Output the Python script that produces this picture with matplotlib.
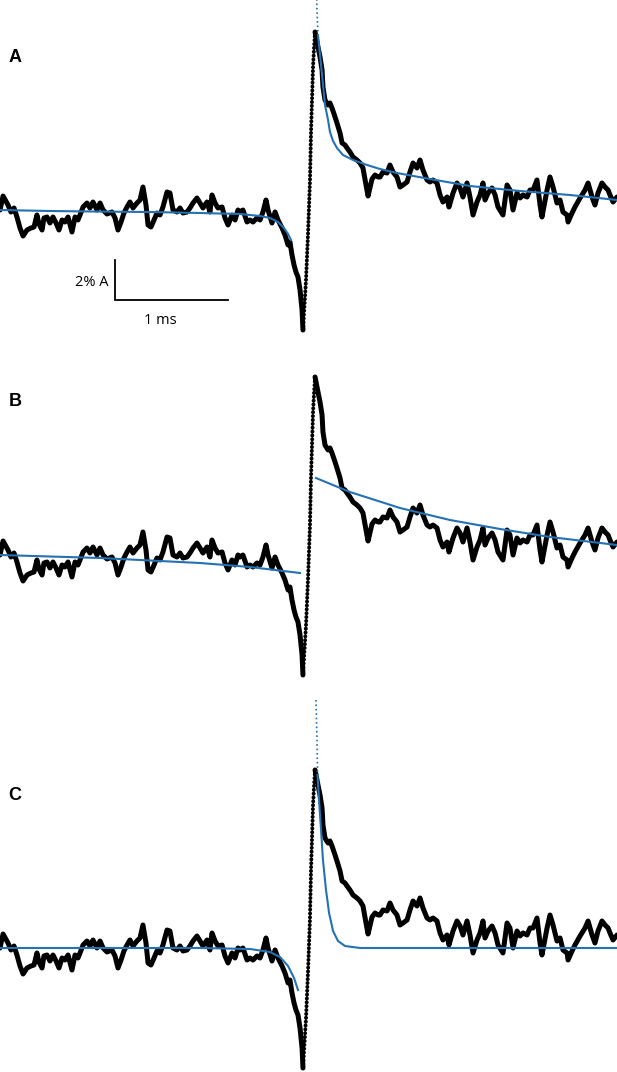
import matplotlib
matplotlib.use('Agg')
from matplotlib import pyplot as plt

# recorded trace (ms, % A), same in all three panels
t_pre = [0.000, 0.027, 0.071, 0.097, 0.124, 0.150, 0.177, 0.204, 0.239, 0.274,
         0.301, 0.327, 0.345, 0.372, 0.389, 0.416, 0.442, 0.469, 0.496, 0.522,
         0.549, 0.575, 0.602, 0.637, 0.664, 0.690, 0.708, 0.735, 0.770, 0.796,
         0.823, 0.858, 0.885, 0.912, 0.947, 0.991, 1.018, 1.044, 1.071, 1.097,
         1.124, 1.150, 1.177, 1.212, 1.239, 1.265, 1.292, 1.310, 1.336, 1.363,
         1.389, 1.416, 1.442, 1.478, 1.504, 1.531, 1.566, 1.593, 1.619, 1.655,
         1.681, 1.708, 1.743, 1.770, 1.796, 1.832, 1.858, 1.876, 1.903, 1.929,
         1.965, 1.991, 2.018, 2.053, 2.080, 2.106, 2.124, 2.150, 2.186, 2.212,
         2.239, 2.274, 2.301, 2.327, 2.354, 2.372, 2.407, 2.434, 2.460, 2.496,
         2.522, 2.549, 2.566, 2.584, 2.602, 2.619, 2.637, 2.655, 2.673, 2.681]
v_pre = [0.00, 0.70, 0.25, -0.10, 0.10, -0.35, -0.90, -1.30, -1.00, -0.90,
         -0.85, -0.25, -0.70, -1.00, -0.40, -0.35, -0.65, -0.35, -0.65, -1.00,
         -0.50, -0.60, -0.35, -1.10, -0.35, -0.50, -0.25, 0.15, 0.35, 0.10,
         0.40, 0.00, 0.35, 0.00, -0.20, -0.10, -0.40, -1.00, -0.60, -0.15,
         0.15, 0.40, 0.10, 0.35, 0.50, 1.15, 0.25, -0.75, -0.85, -0.50,
         -0.15, -0.25, 0.15, 0.90, 0.85, 0.00, -0.10, 0.10, -0.15, -0.10,
         0.10, 0.35, 0.60, 0.35, 0.10, 0.40, -0.10, 0.75, 0.35, 0.10,
         0.15, -0.40, -0.75, -0.25, -0.50, 0.00, -0.10, 0.00, -0.60, -0.50,
         -0.60, -0.40, -0.50, -0.10, 0.50, 0.00, -0.65, -0.10, -0.50, -0.90,
         -1.25, -1.75, -1.60, -2.25, -2.75, -3.10, -3.35, -4.00, -5.00, -6.00]

# fast upstroke (drawn dotted)
t_up = [2.681, 2.708, 2.726, 2.743, 2.752, 2.761, 2.770, 2.779, 2.788]
v_up = [-6.00, -3.50, -1.15, 1.50, 3.85, 5.50, 7.15, 8.10, 8.90]

t_post = [2.788, 2.814, 2.832, 2.850, 2.858, 2.876, 2.903, 2.920, 2.938, 2.965,
          2.982, 3.009, 3.027, 3.053, 3.071, 3.097, 3.124, 3.159, 3.186, 3.212,
          3.239, 3.257, 3.292, 3.319, 3.345, 3.363, 3.389, 3.425, 3.451, 3.478,
          3.513, 3.540, 3.566, 3.602, 3.628, 3.655, 3.690, 3.717, 3.743, 3.779,
          3.805, 3.832, 3.867, 3.894, 3.920, 3.956, 3.973, 4.009, 4.044, 4.071,
          4.097, 4.133, 4.159, 4.186, 4.221, 4.248, 4.274, 4.292, 4.319, 4.354,
          4.381, 4.407, 4.451, 4.487, 4.513, 4.540, 4.575, 4.602, 4.628, 4.664,
          4.690, 4.717, 4.752, 4.779, 4.796, 4.841, 4.867, 4.894, 4.929, 4.956,
          4.982, 5.018, 5.027, 5.062, 5.088, 5.133, 5.177, 5.204, 5.239, 5.265,
          5.292, 5.327, 5.354, 5.381, 5.398, 5.425, 5.460]
v_post = [8.90, 8.15, 7.65, 7.00, 6.15, 5.50, 5.25, 5.35, 5.10, 4.65,
          4.35, 3.85, 3.35, 3.25, 3.10, 2.90, 2.65, 2.50, 2.35, 2.10,
          1.25, 0.70, 1.55, 1.75, 1.65, 1.65, 1.90, 1.85, 2.25, 1.90,
          1.65, 1.15, 1.25, 1.40, 1.90, 2.35, 2.10, 2.50, 2.00, 1.50,
          1.40, 1.50, 1.35, 0.75, 0.40, 0.65, 0.15, 0.85, 1.35, 1.10,
          0.65, 1.35, 0.65, -0.25, 0.40, 0.75, 1.35, 0.50, 0.85, 1.10,
          0.75, 0.15, -0.25, 1.25, 1.00, 0.00, 0.85, 0.60, 0.75, 0.65,
          1.00, 1.00, 1.50, 0.25, -0.35, 1.00, 1.65, 1.15, 0.35, 0.50,
          -0.10, -0.25, -0.60, -0.15, 0.15, 0.60, 1.00, 1.35, 0.65, 0.25,
          0.85, 1.35, 1.15, 1.00, 0.75, 0.40, 0.65]

# fitted curves
fitA_left_t = [0, 0.442, 0.885, 1.327, 1.770, 2.124, 2.301, 2.389, 2.460, 2.513, 2.549, 2.575]
fitA_left_v = [0, -0.05, -0.08, -0.10, -0.15, -0.20, -0.30, -0.40, -0.60, -0.90, -1.20, -1.50]
fitA_dot_t = [2.801, 2.805, 2.814]
fitA_dot_v = [11.0, 10.0, 8.75]
fitA_right_t = [2.814, 2.832, 2.850, 2.876, 2.903, 2.920, 2.947, 2.982, 3.035, 3.124,
                3.248, 3.363, 3.513, 3.805, 4.159, 4.602, 5.044, 5.460]
fitA_right_v = [8.75, 7.75, 6.75, 5.25, 4.50, 3.90, 3.45, 3.10, 2.75, 2.50,
                2.25, 2.05, 1.85, 1.55, 1.20, 0.95, 0.75, 0.50]

fitB_left_t = [0, 0.885, 1.770, 2.212, 2.655]
fitB_left_v = [0, -0.15, -0.40, -0.60, -0.90]
fitB_right_t = [2.796, 3.097, 3.540, 3.982, 4.425, 4.867, 5.460]
fitB_right_v = [3.85, 3.15, 2.35, 1.75, 1.30, 0.90, 0.50]

fitC_left_t = [0, 1.770, 2.212, 2.389, 2.478, 2.549, 2.602, 2.637]
fitC_left_v = [0, 0, -0.05, -0.20, -0.45, -0.90, -1.50, -2.10]
fitC_dot_t = [2.796, 2.805, 2.810]
fitC_dot_v = [12.4, 10.5, 8.65]
fitC_right_t = [2.810, 2.823, 2.841, 2.858, 2.885, 2.912, 2.947, 2.991, 3.053, 3.186, 5.460]
fitC_right_v = [8.65, 7.40, 5.90, 4.40, 2.90, 1.75, 0.85, 0.35, 0.10, 0.00, 0.00]

fits = [
    (fitA_left_t, fitA_left_v, fitA_dot_t, fitA_dot_v, fitA_right_t, fitA_right_v),
    (fitB_left_t, fitB_left_v, None, None, fitB_right_t, fitB_right_v),
    (fitC_left_t, fitC_left_v, fitC_dot_t, fitC_dot_v, fitC_right_t, fitC_right_v),
]
labels = ['A', 'B', 'C']

blue = '#2471b3'
W, H = 617, 1072
fig = plt.figure(figsize=(W / 100, H / 100), dpi=100)
boxes = [[0, 727 / H, 1, 345 / H], [0, 382 / H, 1, 345 / H], [0, 0, 1, 382 / H]]
ylims = [(-6.75, 10.5), (-6.75, 10.5), (-6.2, 12.9)]
letter_y = [57, 402, 795]

for i in range(3):
    ax = fig.add_axes(boxes[i])
    lt, lv, dt, dv, rt, rv = fits[i]
    ax.plot(t_pre, v_pre, color='black', lw=3.6, solid_joinstyle='round', solid_capstyle='round', zorder=2)
    ax.plot(t_post, v_post, color='black', lw=3.6, solid_joinstyle='round', solid_capstyle='round', zorder=2)
    ax.plot(t_up, v_up, color='black', lw=2.9, linestyle=(0, (0.01, 0.95)),
            dash_capstyle='round', zorder=2)
    ax.plot(lt, lv, color=blue, lw=1.5, zorder=3)
    ax.plot(rt, rv, color=blue, lw=1.5, zorder=3)
    if dt is not None:
        ax.plot(dt, dv, color=blue, lw=1.2, linestyle=':', zorder=3)
    ax.set_xlim(0, 5.46)
    ax.set_ylim(*ylims[i])
    ax.axis('off')
    fig.text(15 / W, 1 - letter_y[i] / H, labels[i], ha='center', va='center',
             fontsize=13, fontweight='bold', family='Liberation Sans')
    if i == 0:
        # scale bar: 2 % A by 1 ms
        ax.plot([1.018, 1.018, 2.018], [-2.5, -4.5, -4.5], color='black', lw=1.3,
                solid_joinstyle='miter')
        ax.text(0.96, -3.6, '2% A', ha='right', va='center', fontsize=10.5, family='Open Sans')
        ax.text(1.416, -5.5, '1 ms', ha='center', va='center', fontsize=10.5, family='Open Sans')

fig.savefig('out.png', dpi=100)
